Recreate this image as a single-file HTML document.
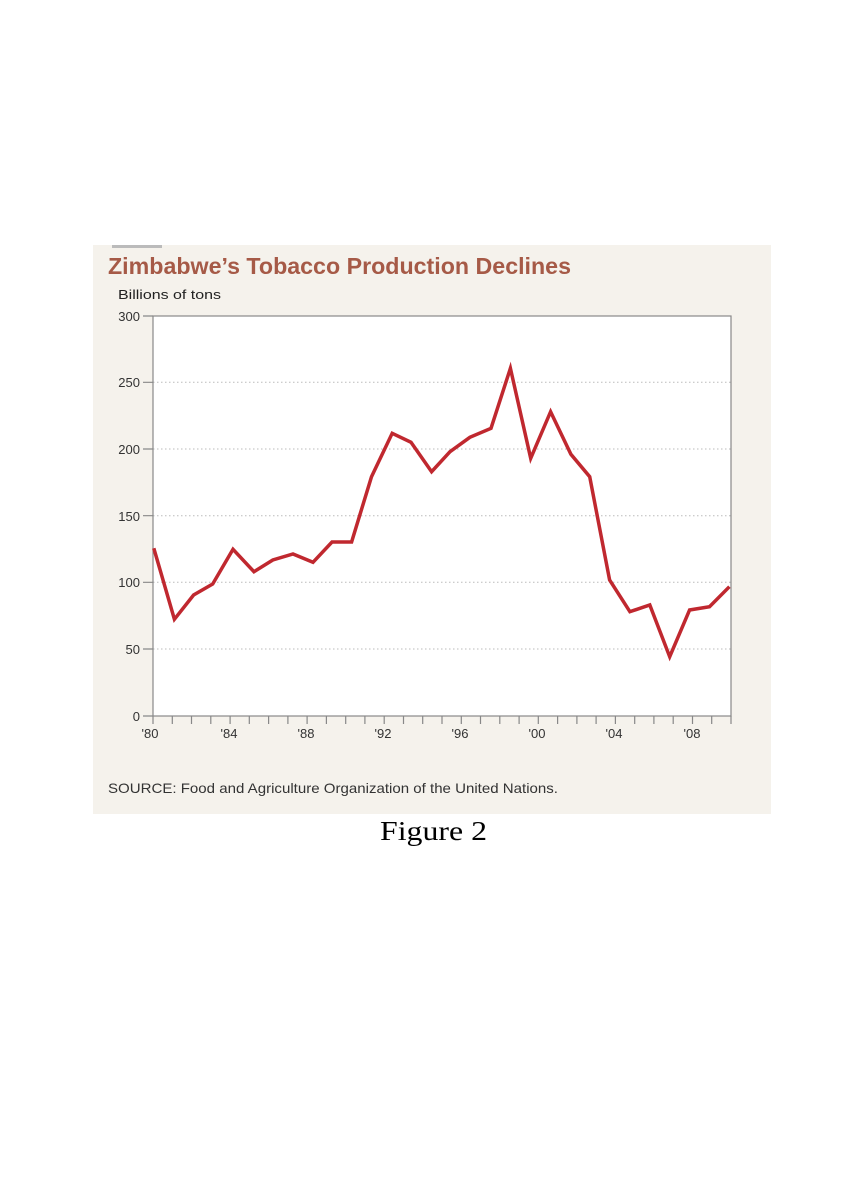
<!DOCTYPE html>
<html><head><meta charset="utf-8"><style>
body{margin:0;background:#fff;width:841px;height:1191px;position:relative;overflow:hidden;font-family:"Liberation Sans",sans-serif}
</style></head><body>
<svg width="841" height="1191" style="position:absolute;left:0;top:0">
<rect x="93" y="245" width="678" height="569" fill="#f5f2ec"/>
<rect x="112" y="245" width="50" height="3" fill="#bbb"/>
<rect x="153" y="316" width="578" height="400" fill="#fff"/>
<text x="108" y="274" font-size="23" font-weight="bold" fill="#a65a47" textLength="463" lengthAdjust="spacingAndGlyphs">Zimbabwe’s Tobacco Production Declines</text>
<text x="118" y="299" font-size="13" fill="#222" textLength="103" lengthAdjust="spacingAndGlyphs">Billions of tons</text>
<g stroke="#bbb" stroke-width="1" stroke-dasharray="1.5,2.5">
<line x1="153" y1="382.3" x2="731" y2="382.3"/>
<line x1="153" y1="449" x2="731" y2="449"/>
<line x1="153" y1="515.7" x2="731" y2="515.7"/>
<line x1="153" y1="582.3" x2="731" y2="582.3"/>
<line x1="153" y1="649" x2="731" y2="649"/>
</g>
<g stroke="#888" stroke-width="1.2" fill="none">
<rect x="153" y="316" width="578" height="400"/>
<path d="M143 316H153M143 382.3H153M143 449H153M143 515.7H153M143 582.3H153M143 649H153M143 716H153"/>
<path d="M153 716v8M172.3 716v8M191.5 716v8M210.8 716v8M230.1 716v8M249.3 716v8M268.6 716v8M287.9 716v8M307.1 716v8M326.4 716v8M345.7 716v8M364.9 716v8M384.2 716v8M403.5 716v8M422.7 716v8M442 716v8M461.3 716v8M480.5 716v8M499.8 716v8M519.1 716v8M538.3 716v8M557.6 716v8M576.9 716v8M596.1 716v8M615.4 716v8M634.7 716v8M653.9 716v8M673.2 716v8M692.5 716v8M711.7 716v8M731 716v8"/>
</g>
<g font-size="13" fill="#333" text-anchor="end">
<text x="140" y="321">300</text><text x="140" y="387">250</text><text x="140" y="454">200</text><text x="140" y="521">150</text><text x="140" y="587">100</text><text x="140" y="654">50</text><text x="140" y="721">0</text>
</g>
<g font-size="13" fill="#333" text-anchor="middle">
<text x="150" y="738">'80</text><text x="229" y="738">'84</text><text x="306" y="738">'88</text><text x="383" y="738">'92</text><text x="460" y="738">'96</text><text x="537" y="738">'00</text><text x="614" y="738">'04</text><text x="692" y="738">'08</text>
</g>
<polyline fill="none" stroke="#c0282f" stroke-width="3.5" stroke-linejoin="miter" points="153.8,548.3 174.4,619.3 193.6,595 212.7,584 233,549.3 254,571.7 272.8,560 293,554 313,562.3 332,542 351.6,542 371.5,476.7 392.2,433.3 411,442.3 431.6,471.7 450,451.7 469.9,437.3 491,428.3 510.4,368.3 530.7,458.3 550.6,411.7 570.9,454.3 589.7,476.7 609.6,580 629.9,611.7 649.8,605 669.7,656.7 689.6,610 709.5,606.7 729.4,586.7"/>
<text x="108" y="793" font-size="14" fill="#333" textLength="450" lengthAdjust="spacingAndGlyphs">SOURCE: Food and Agriculture Organization of the United Nations.</text>
<text x="380" y="840" font-size="27" fill="#000" font-family="Liberation Serif" textLength="107" lengthAdjust="spacingAndGlyphs">Figure 2</text>
</svg>
</body></html>
